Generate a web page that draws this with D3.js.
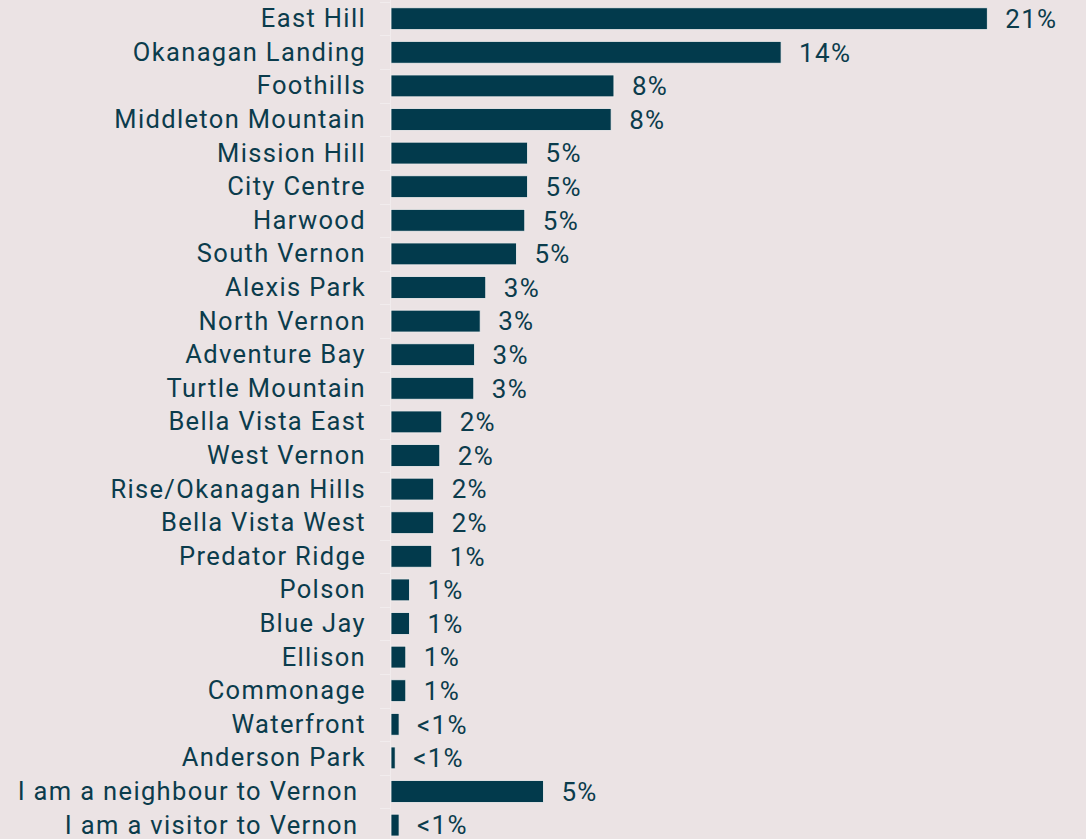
<!DOCTYPE html>
<html>
<head>
  <meta charset="utf-8">
  <script src="https://cdn.jsdelivr.net/npm/d3@7/dist/d3.min.js"></script>
<style type="text/css">
  body { margin: 0; background: #ebe3e4; }
  text { font-family: Roboto, sans-serif; fill: #0b3c4c; }
</style>
</head>
<body>
<script>
  var w = 1086;
  var h = 839;

  var areas = ["East Hill", "Okanagan Landing", "Foothills", "Middleton Mountain",
    "Mission Hill", "City Centre", "Harwood", "South Vernon", "Alexis Park",
    "North Vernon", "Adventure Bay", "Turtle Mountain", "Bella Vista East",
    "West Vernon", "Rise/Okanagan Hills", "Bella Vista West", "Predator Ridge",
    "Polson", "Blue Jay", "Ellison", "Commonage", "Waterfront", "Anderson Park",
    "I am a neighbour to Vernon\u00a0", "I am a visitor to Vernon\u00a0"];

  var shares = [21.4, 14.0, 8.0, 7.9, 4.9, 4.9, 4.8, 4.5, 3.4, 3.2, 3.0, 2.97,
    1.82, 1.75, 1.53, 1.53, 1.46, 0.66, 0.66, 0.53, 0.53, 0.29, 0.15, 5.47, 0.29];

  var shareLabels = ["21%", "14%", "8%", "8%", "5%", "5%", "5%", "5%", "3%", "3%",
    "3%", "3%", "2%", "2%", "2%", "2%", "1%", "1%", "1%", "1%", "1%", "<1%", "<1%",
    "5%", "<1%"];

  var data = areas.map(function (a, i) {
    return { area: a, share: shares[i], label: shareLabels[i] };
  });

  var svg = d3.select("body").append("svg")
    .attr("width", w)
    .attr("height", h);

  var x = d3.scaleLinear().domain([0, 21.4]).range([391, 987.3]);
  var y = d3.scaleBand()
    .domain(areas)
    .range([1.9, 1.9 + 33.6 * areas.length])
    .paddingInner(0.35)
    .paddingOuter(0.175);

  // faint axis line + ticks between categories
  svg.append("line")
    .attr("x1", 390.5).attr("x2", 390.5)
    .attr("y1", 0).attr("y2", h)
    .attr("stroke", "#f1eced").attr("stroke-width", 1);

  svg.selectAll("line.tick")
    .data(areas)
    .enter()
    .append("line")
    .attr("class", "tick")
    .attr("x1", 380).attr("x2", 391)
    .attr("y1", function (d) { return Math.round(y(d) - y.step() * 0.175) + 0.5; })
    .attr("y2", function (d) { return Math.round(y(d) - y.step() * 0.175) + 0.5; })
    .attr("stroke", "#f1eced").attr("stroke-width", 1);

  svg.selectAll("rect.bar")
    .data(data)
    .enter()
    .append("rect")
    .attr("class", "bar")
    .attr("x", x(0))
    .attr("y", function (d) { return y(d.area); })
    .attr("width", function (d) { return x(d.share) - x(0); })
    .attr("height", y.bandwidth())
    .attr("fill", "#023a4c")
    .attr("stroke", "#f4f0f0")
    .attr("stroke-width", 0.8);

  svg.selectAll("text.name")
    .data(data)
    .enter()
    .append("text")
    .attr("class", "name")
    .attr("x", 366)
    .attr("y", function (d) { return y(d.area) + y.bandwidth() / 2; })
    .attr("dy", "0.33em")
    .attr("text-anchor", "end")
    .style("font-size", "25.5px")
    .style("letter-spacing", "1.35px")
    .style("white-space", "pre")
    .text(function (d) { return d.area; });

  svg.selectAll("text.val")
    .data(data)
    .enter()
    .append("text")
    .attr("class", "val")
    .attr("x", function (d) { return x(d.share) + 18; })
    .attr("y", function (d) { return y(d.area) + y.bandwidth() / 2; })
    .attr("dy", "0.36em")
    .style("font-size", "26px")
    .style("letter-spacing", "1.3px")
    .text(function (d) { return d.label; });
</script>
</body>
</html>
